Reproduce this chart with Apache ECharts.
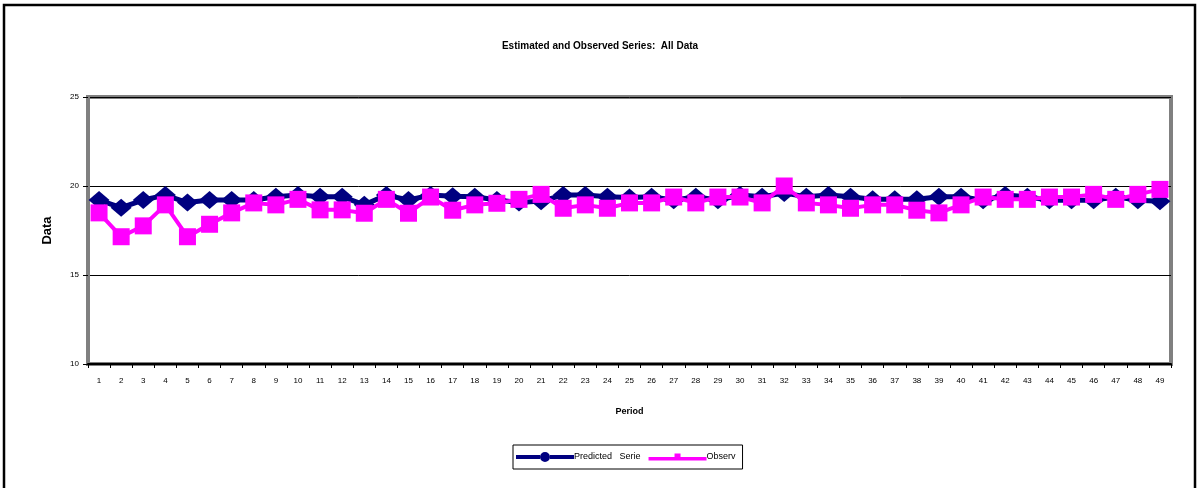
<!DOCTYPE html>
<html>
<head>
<meta charset="utf-8">
<script src="https://cdn.jsdelivr.net/npm/echarts@6/dist/echarts.min.js"></script>
<style>
html,body{margin:0;padding:0;background:#fff;}
#chart{width:1200px;height:488px;}
</style>
</head>
<body>
<div id="chart"></div>
<script>
const periods = Array.from({length:49},(_,i)=>String(i+1));
const predicted = [19.21,18.78,19.21,19.49,19.07,19.21,19.21,19.21,19.40,19.49,
  19.40,19.40,18.94,19.49,19.21,19.49,19.42,19.40,19.21,19.07,
  19.15,19.49,19.49,19.40,19.35,19.40,19.20,19.40,19.20,19.49,
  19.40,19.60,19.40,19.49,19.40,19.25,19.25,19.25,19.40,19.40,
  19.20,19.49,19.40,19.20,19.20,19.20,19.40,19.20,19.15];
const observed = [18.49,17.15,17.76,18.94,17.15,17.85,18.49,19.05,18.94,19.25,
  18.66,18.66,18.47,19.25,18.47,19.38,18.64,18.94,19.03,19.25,
  19.53,18.75,18.94,18.75,19.05,19.05,19.38,19.05,19.38,19.38,
  19.05,20.00,19.05,18.94,18.75,18.94,18.94,18.64,18.49,18.94,
  19.38,19.25,19.25,19.38,19.38,19.53,19.25,19.53,19.81];
const yTicks = {min:10, max:25, interval:5};

const chart = echarts.init(document.getElementById('chart'));
const FONT = 'Liberation Sans, Arial, sans-serif';
chart.setOption({
  animation:false,
  backgroundColor:'#fff',
  graphic:[{
    type:'rect', silent:true, z:-1,
    shape:{x:4,y:5,width:1191,height:500},
    style:{fill:'none',stroke:'#000',lineWidth:2.5}
  }],
  title:{
    text:'Estimated and Observed Series:  All Data',
    left:'center', top:36,
    textStyle:{fontFamily:FONT,fontSize:10,fontWeight:'bold',color:'#000'}
  },
  legend:{
    left:513, top:445,
    orient:'horizontal',
    borderColor:'#000', borderWidth:1,
    padding:[7,7,7,3],
    itemGap:8,
    itemWidth:58, itemHeight:10,
    textStyle:{fontFamily:FONT,fontSize:9,color:'#000',padding:[0,0,0,-5]},
    data:[
      {name:'Predicted   Serie', icon:'path://M0,3 L24,3 L24,7 L0,7 Z M34,3 L58,3 L58,7 L34,7 Z M24,5 A5,5 0 1,0 34,5 A5,5 0 1,0 24,5 Z'},
      {name:'Observ', icon:'path://M0,3.5 L26,3.5 L26,7 L0,7 Z M32,3.5 L58,3.5 L58,7 L32,7 Z M26,0 L32,0 L32,7 L26,7 Z'}
    ]
  },
  grid:{
    left:88, right:29, top:97, bottom:124,
    show:true, borderColor:'#808080', borderWidth:4, backgroundColor:'#fff'
  },
  xAxis:{
    type:'category', data:periods, boundaryGap:true,
    name:'Period', nameLocation:'middle', nameGap:43,
    nameTextStyle:{fontFamily:FONT,fontSize:9,fontWeight:'bold',color:'#000'},
    axisLine:{lineStyle:{color:'#000',width:2}},
    axisTick:{show:true,length:4,lineStyle:{color:'#000'}},
    axisLabel:{fontFamily:FONT,fontSize:8,color:'#000',margin:13,interval:0}
  },
  yAxis:{
    type:'value', min:yTicks.min, max:yTicks.max, interval:yTicks.interval,
    name:'Data', nameLocation:'middle', nameGap:34, nameRotate:90,
    nameTextStyle:{fontFamily:FONT,fontSize:13,fontWeight:'bold',color:'#000'},
    axisLine:{show:true,lineStyle:{color:'#808080',width:4}},
    axisTick:{show:true,length:5,lineStyle:{color:'#000'}},
    axisLabel:{fontFamily:FONT,fontSize:8,color:'#000',margin:9},
    splitLine:{show:true,lineStyle:{color:'#000',width:1}}
  },
  series:[
    {
      name:'Predicted   Serie', type:'line', data:predicted,
      symbol:'diamond', symbolSize:[21,18],
      lineStyle:{color:'#000080',width:5},
      itemStyle:{color:'#000080'},
      z:2
    },
    {
      name:'Observ', type:'line', data:observed,
      symbol:'rect', symbolSize:17,
      lineStyle:{color:'#FF00FF',width:4},
      itemStyle:{color:'#FF00FF'},
      z:3
    }
  ]
});
</script>
</body>
</html>
